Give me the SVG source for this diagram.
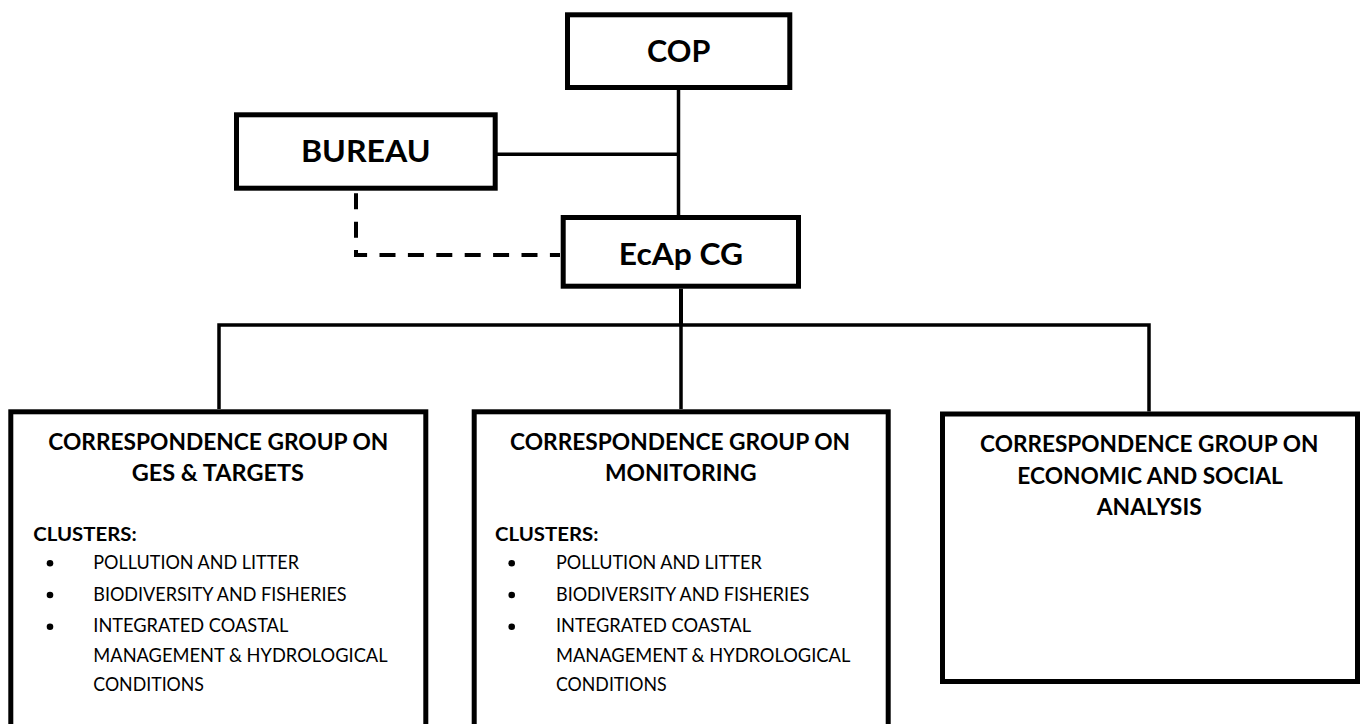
<svg xmlns="http://www.w3.org/2000/svg" width="1362" height="724" viewBox="0 0 1362 724">
<style>
.box{fill:#fff;stroke:#000;stroke-width:5;stroke-linejoin:miter}
.con{fill:none;stroke:#000;stroke-width:3.5}
.dash{fill:none;stroke:#000;stroke-width:4;stroke-dasharray:16 12.4}
.big{font-family:Lato,"Liberation Sans",sans-serif;font-weight:700;font-size:31px;text-anchor:middle}
.ttl{font-family:Lato,"Liberation Sans",sans-serif;font-weight:700;font-size:23.5px;text-anchor:middle}
.cl{font-family:Lato,"Liberation Sans",sans-serif;font-weight:700;font-size:19.5px}
.it{font-family:Lato,"Liberation Sans",sans-serif;font-weight:400;font-size:18.3px}
</style>
<rect width="1362" height="724" fill="#fff"/>
<g id="connectors">
<path class="con" d="M678.5,90 V215"/>
<path class="con" d="M497,154.3 H678.5"/>
<path class="dash" d="M356,193.3 V255 H560"/>
<path class="con" d="M681,288.7 V325" style="stroke-width:4"/>
<path class="con" d="M219,409 V325 H1149 V411.5"/>
<path class="con" d="M681,325 V409"/>
</g>
<g id="cop">
<rect class="box" x="567.5" y="14.8" width="222.3" height="72.7"/>
<text class="big" x="678.7" y="61.7" textLength="63.3" lengthAdjust="spacingAndGlyphs">COP</text>
</g>
<g id="bureau">
<rect class="box" x="236.5" y="114.8" width="258.7" height="73.4"/>
<text class="big" x="365.8" y="162.3" textLength="129.7" lengthAdjust="spacingAndGlyphs">BUREAU</text>
</g>
<g id="ecap">
<rect class="box" x="563.2" y="217.5" width="235.3" height="68.7"/>
<text class="big" x="681" y="265" textLength="124.3" lengthAdjust="spacingAndGlyphs">EcAp CG</text>
</g>
<g id="cg-ges">
<rect class="box" x="10.8" y="411.8" width="415" height="330"/>
<text class="ttl" x="218.3" y="450" textLength="340" lengthAdjust="spacingAndGlyphs">CORRESPONDENCE GROUP ON</text>
<text class="ttl" x="217.8" y="481" textLength="172.3" lengthAdjust="spacingAndGlyphs">GES &amp; TARGETS</text>
<text class="cl" x="33.3" y="540.7" textLength="103.4" lengthAdjust="spacingAndGlyphs">CLUSTERS:</text>
<circle cx="50" cy="563.3" r="3.3"/>
<circle cx="50" cy="595" r="3.3"/>
<circle cx="50" cy="626.7" r="3.3"/>
<text class="it" x="93.3" y="569" textLength="205.7" lengthAdjust="spacingAndGlyphs">POLLUTION AND LITTER</text>
<text class="it" x="93.3" y="600.7" textLength="253.3" lengthAdjust="spacingAndGlyphs">BIODIVERSITY AND FISHERIES</text>
<text class="it" x="93.3" y="631.7" textLength="195" lengthAdjust="spacingAndGlyphs">INTEGRATED COASTAL</text>
<text class="it" x="93.3" y="661.7" textLength="294.3" lengthAdjust="spacingAndGlyphs">MANAGEMENT &amp; HYDROLOGICAL</text>
<text class="it" x="93.3" y="690.7" textLength="110.7" lengthAdjust="spacingAndGlyphs">CONDITIONS</text>
</g>
<g id="cg-monitoring">
<rect class="box" x="474.2" y="411.8" width="414" height="330"/>
<text class="ttl" x="680" y="450" textLength="340" lengthAdjust="spacingAndGlyphs">CORRESPONDENCE GROUP ON</text>
<text class="ttl" x="680.8" y="481" textLength="151.7" lengthAdjust="spacingAndGlyphs">MONITORING</text>
<text class="cl" x="495" y="540.7" textLength="103.4" lengthAdjust="spacingAndGlyphs">CLUSTERS:</text>
<circle cx="511.7" cy="563.3" r="3.3"/>
<circle cx="511.7" cy="595" r="3.3"/>
<circle cx="511.7" cy="626.7" r="3.3"/>
<text class="it" x="556" y="569" textLength="205.7" lengthAdjust="spacingAndGlyphs">POLLUTION AND LITTER</text>
<text class="it" x="556" y="600.7" textLength="253.3" lengthAdjust="spacingAndGlyphs">BIODIVERSITY AND FISHERIES</text>
<text class="it" x="556" y="631.7" textLength="195" lengthAdjust="spacingAndGlyphs">INTEGRATED COASTAL</text>
<text class="it" x="556" y="661.7" textLength="294.3" lengthAdjust="spacingAndGlyphs">MANAGEMENT &amp; HYDROLOGICAL</text>
<text class="it" x="556" y="690.7" textLength="110.7" lengthAdjust="spacingAndGlyphs">CONDITIONS</text>
</g>
<g id="cg-economic">
<rect class="box" x="942.5" y="414" width="415" height="267.5"/>
<text class="ttl" x="1149.2" y="451.5" textLength="338.3" lengthAdjust="spacingAndGlyphs">CORRESPONDENCE GROUP ON</text>
<text class="ttl" x="1150" y="483.5" textLength="265.4" lengthAdjust="spacingAndGlyphs">ECONOMIC AND SOCIAL</text>
<text class="ttl" x="1149.2" y="514.5" textLength="105" lengthAdjust="spacingAndGlyphs">ANALYSIS</text>
</g>
</svg>
